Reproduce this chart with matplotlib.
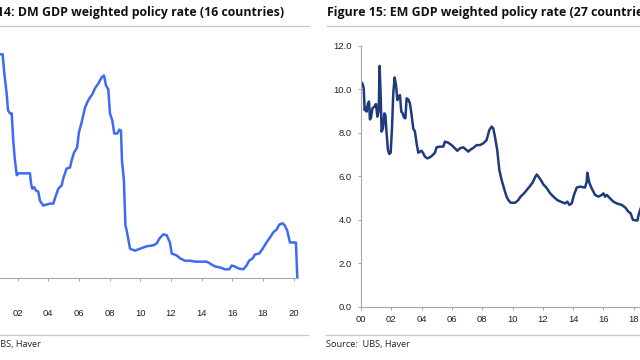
import matplotlib
matplotlib.use("Agg")
import matplotlib.pyplot as plt
from matplotlib.lines import Line2D

# ---------------- data ----------------
dm_years = [2000.50, 2001.02, 2001.11, 2001.28, 2001.37, 2001.50, 2001.61, 2001.71, 2001.82, 2001.94,
            2002.04, 2002.80, 2002.87, 2002.95, 2003.08, 2003.19, 2003.34, 2003.45, 2003.67, 2004.11,
            2004.32, 2004.43, 2004.65, 2004.87, 2004.97, 2005.19, 2005.41, 2005.52, 2005.67, 2005.88,
            2005.99, 2006.17, 2006.39, 2006.60, 2006.89, 2007.04, 2007.26, 2007.48, 2007.63, 2007.76,
            2007.91, 2008.02, 2008.17, 2008.30, 2008.50, 2008.63, 2008.74, 2008.80, 2008.93, 2008.97,
            2009.03, 2009.11, 2009.33, 2009.65, 2009.98, 2010.41, 2010.84, 2011.07, 2011.24, 2011.50,
            2011.72, 2011.93, 2012.05, 2012.37, 2012.59, 2012.91, 2013.24, 2013.57, 2014.33, 2014.55,
            2014.87, 2015.20, 2015.52, 2015.80, 2015.96, 2016.17, 2016.39, 2016.71, 2016.93, 2017.10,
            2017.33, 2017.48, 2017.76, 2017.98, 2018.19, 2018.45, 2018.67, 2018.89, 2019.06, 2019.28,
            2019.43, 2019.58, 2019.76, 2020.15, 2020.24]
dm_rate = [4.65, 4.65, 4.31, 3.83, 3.48, 3.42, 3.42, 2.85, 2.44, 2.13,
           2.17, 2.17, 1.96, 1.85, 1.88, 1.81, 1.79, 1.60, 1.50, 1.54,
           1.54, 1.65, 1.85, 1.92, 2.06, 2.27, 2.29, 2.44, 2.60, 2.71,
           3.02, 3.23, 3.54, 3.69, 3.83, 3.94, 4.04, 4.17, 4.21, 4.00,
           3.92, 3.42, 3.27, 3.00, 3.00, 3.08, 3.06, 2.44, 2.02, 1.60,
           1.08, 0.98, 0.60, 0.56, 0.60, 0.65, 0.67, 0.71, 0.81, 0.90,
           0.88, 0.73, 0.50, 0.46, 0.40, 0.35, 0.35, 0.33, 0.33, 0.29,
           0.23, 0.21, 0.17, 0.17, 0.25, 0.23, 0.19, 0.17, 0.25, 0.35,
           0.40, 0.48, 0.50, 0.60, 0.71, 0.83, 0.94, 1.00, 1.10, 1.13,
           1.08, 0.98, 0.73, 0.73, 0.00]

em_years = [2000.00, 2000.11, 2000.18, 2000.24, 2000.31, 2000.37, 2000.46, 2000.53, 2000.59, 2000.66,
            2000.75, 2000.88, 2000.99, 2001.08, 2001.17, 2001.23, 2001.30, 2001.36, 2001.45, 2001.54,
            2001.61, 2001.69, 2001.78, 2001.87, 2001.96, 2002.05, 2002.13, 2002.22, 2002.31, 2002.40,
            2002.49, 2002.57, 2002.66, 2002.75, 2002.84, 2002.93, 2003.01, 2003.12, 2003.23, 2003.34,
            2003.45, 2003.56, 2003.67, 2003.78, 2003.89, 2004.00, 2004.11, 2004.22, 2004.38, 2004.55,
            2004.73, 2004.88, 2004.99, 2005.21, 2005.43, 2005.54, 2005.76, 2005.98, 2006.20, 2006.36,
            2006.53, 2006.75, 2006.97, 2007.08, 2007.24, 2007.41, 2007.63, 2007.85, 2008.07, 2008.29,
            2008.47, 2008.62, 2008.73, 2008.84, 2008.99, 2009.13, 2009.28, 2009.44, 2009.61, 2009.73,
            2009.88, 2010.17, 2010.38, 2010.53, 2010.76, 2010.98, 2011.16, 2011.33, 2011.49, 2011.60,
            2011.82, 2012.04, 2012.26, 2012.48, 2012.70, 2012.96, 2013.18, 2013.47, 2013.62, 2013.75,
            2013.91, 2014.06, 2014.24, 2014.46, 2014.79, 2014.90, 2014.94, 2015.07, 2015.22, 2015.45,
            2015.67, 2015.89, 2016.00, 2016.11, 2016.22, 2016.44, 2016.66, 2016.88, 2017.21, 2017.43,
            2017.65, 2017.80, 2017.95, 2018.24, 2018.35, 2018.46]
em_rate = [10.34, 10.24, 10.04, 9.04, 9.16, 8.97, 9.35, 9.43, 8.61, 8.70,
           9.12, 9.20, 9.32, 8.74, 9.04, 11.07, 9.66, 8.05, 8.20, 8.89,
           8.81, 7.97, 7.20, 7.02, 7.08, 8.28, 9.81, 10.54, 10.19, 9.50,
           9.66, 9.73, 8.97, 8.89, 8.70, 8.66, 9.58, 9.53, 9.35, 8.81,
           8.20, 8.05, 7.51, 7.08, 7.13, 7.17, 7.05, 6.90, 6.82, 6.87,
           6.97, 7.08, 7.33, 7.36, 7.36, 7.59, 7.54, 7.43, 7.28, 7.17,
           7.28, 7.33, 7.20, 7.13, 7.23, 7.30, 7.43, 7.43, 7.51, 7.66,
           8.12, 8.28, 8.20, 7.82, 7.21, 6.29, 5.83, 5.44, 5.06, 4.90,
           4.78, 4.78, 4.90, 5.06, 5.21, 5.40, 5.55, 5.71, 5.95, 6.08,
           5.88, 5.62, 5.45, 5.22, 5.06, 4.90, 4.83, 4.75, 4.83, 4.68,
           4.75, 5.14, 5.48, 5.52, 5.48, 5.75, 6.16, 5.70, 5.45, 5.14,
           5.06, 5.14, 5.21, 5.06, 5.14, 4.98, 4.83, 4.75, 4.68, 4.57,
           4.37, 4.29, 3.99, 3.96, 4.29, 4.52]

tick_years = list(range(2000, 2021, 2))
tick_labels = ["%02d" % (y % 100) for y in tick_years]
em_yticks = [0, 2, 4, 6, 8, 10, 12]

title_left = "Figure 14: DM GDP weighted policy rate (16 countries)"
title_right = "Figure 15: EM GDP weighted policy rate (27 countries)"
source_text = "Source:  UBS, Haver"

# ---------------- layout ----------------
W, H = 640, 360
fig = plt.figure(figsize=(W / 100, H / 100), dpi=100)

def fx(px):
    return px / W

def fy(py):
    return 1 - py / H

axis_gray = "#a6a6a6"
text_col = "#222222"
tick_font = "Liberation Sans"
title_font = "Open Sans"

# Left axes (DM)
px_per_year_l = 15.33
x0_l = -12.97
xmax_l = 2020.3
ax1 = fig.add_axes([fx(x0_l), fy(277.5), fx((xmax_l - 2000) * px_per_year_l), (277.5 - 37.5) / H])
ax1.plot(dm_years, dm_rate, color="#3d6bf2", lw=1.8, solid_joinstyle="round", clip_on=False)
ax1.set_xlim(2000, xmax_l)
ax1.set_ylim(0, 5)
for s in ["top", "right", "left"]:
    ax1.spines[s].set_visible(False)
ax1.spines["bottom"].set_color(axis_gray)
ax1.spines["bottom"].set_linewidth(0.8)
ax1.set_yticks([])
ax1.set_xticks(tick_years)
ax1.set_xticklabels(tick_labels)
ax1.tick_params(axis="x", direction="out", length=2.2, width=0.7, color=axis_gray,
                pad=20.5, labelsize=6.8, labelcolor=text_col)
for t in ax1.get_xticklabels():
    t.set_fontfamily(tick_font)

# Right axes (EM)
px_per_year_r = 15.15
x0_r = 361.0
xmax_r = 2020.5
ax2 = fig.add_axes([fx(x0_r), fy(306.7), fx((xmax_r - 2000) * px_per_year_r), (306.7 - 45.7) / H])
ax2.plot(em_years, em_rate, color="#1f3b7d", lw=1.8, solid_joinstyle="round")
ax2.set_xlim(2000, xmax_r)
ax2.set_ylim(0, 12)
for s in ["top", "right"]:
    ax2.spines[s].set_visible(False)
for s in ["bottom", "left"]:
    ax2.spines[s].set_color(axis_gray)
    ax2.spines[s].set_linewidth(0.8)
ax2.set_xticks(tick_years)
ax2.set_xticklabels(tick_labels)
ax2.set_yticks(em_yticks)
ax2.set_yticklabels(["%.1f" % v for v in em_yticks])
ax2.tick_params(axis="x", direction="out", length=2.2, width=0.7, color=axis_gray,
                pad=4.0, labelsize=6.8, labelcolor=text_col)
ax2.tick_params(axis="y", direction="out", length=2.2, width=0.7, color=axis_gray,
                pad=4.3, labelsize=6.8, labelcolor=text_col)
for t in ax2.get_xticklabels() + ax2.get_yticklabels():
    t.set_fontfamily(tick_font)

# Titles
fig.text(fx(-45), fy(15.8), title_left, fontsize=8.95, fontweight="bold",
         fontfamily=title_font, color="#111111", ha="left", va="baseline")
fig.text(fx(327), fy(15.8), title_right, fontsize=8.95, fontweight="bold",
         fontfamily=title_font, color="#111111", ha="left", va="baseline")

# Rules
rule_col = "#c8c8c8"
for (xa, xb, yy) in [(-41, 309, 26), (327, 660, 26), (-41, 308, 335), (326, 660, 335)]:
    fig.add_artist(Line2D([fx(xa), fx(xb)], [fy(yy), fy(yy)], color=rule_col, lw=0.9,
                          transform=fig.transFigure))

# Sources
fig.text(fx(-43), fy(345), source_text, fontsize=6.6, fontfamily=title_font,
         color=text_col, ha="left", va="center")
fig.text(fx(326), fy(345), source_text, fontsize=6.6, fontfamily=title_font,
         color=text_col, ha="left", va="center")

fig.savefig("out.png", dpi=100)
